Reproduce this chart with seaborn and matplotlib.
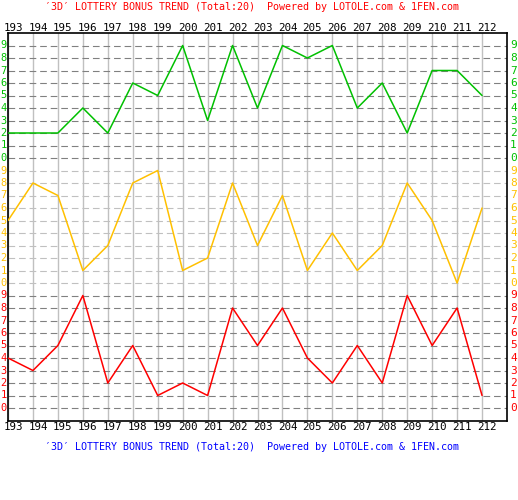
import pandas as pd
import matplotlib
matplotlib.use("Agg")
import matplotlib.pyplot as plt
import matplotlib.transforms as mtrans
import seaborn as sns

periods = [193, 194, 195, 196, 197, 198, 199, 200, 201, 202,
           203, 204, 205, 206, 207, 208, 209, 210, 211, 212]
digit1 = [2, 2, 2, 4, 2, 6, 5, 9, 3, 9, 4, 9, 8, 9, 4, 6, 2, 7, 7, 5]
digit2 = [5, 8, 7, 1, 3, 8, 9, 1, 2, 8, 3, 7, 1, 4, 1, 3, 8, 5, 0, 6]
digit3 = [4, 3, 5, 9, 2, 5, 1, 2, 1, 8, 5, 8, 4, 2, 5, 2, 9, 5, 8, 1]
bands = ["d1", "d2", "d3"]
band_colors = {"d1": "#00c000", "d2": "#ffc000", "d3": "#ff0000"}
band_offset = {"d1": 20, "d2": 10, "d3": 0}
title = "\u20323D\u2032 LOTTERY BONUS TREND (Total:20)  Powered by LOTOLE.com & 1FEN.com"

rows = []
for band, vals in zip(bands, [digit1, digit2, digit3]):
    for i, (p, v) in enumerate(zip(periods, vals)):
        rows.append({"idx": i, "period": p, "band": band, "row": v + band_offset[band]})
df = pd.DataFrame(rows)

sns.set_style("white")
plt.rcParams["font.family"] = ["DejaVu Sans Mono"]

fig = plt.figure(figsize=(5.18, 5.0), dpi=100)
ax = fig.add_axes([8 / 518, 1 - 420.5 / 500, 499 / 518, 387.5 / 500])
ax.set_xlim(0, 20)
ax.set_ylim(-1, 30)

# grid: light vertical lines, dashed horizontal lines per band
for i in range(len(periods)):
    ax.axvline(i, color="#c0c0c0", lw=1.0, zorder=0)
for r in range(30):
    c = "#c0c0c0" if 10 <= r < 20 else "#808080"
    ax.axhline(r, color=c, lw=0.8, ls=(0, (6, 3.5)), zorder=0)

sns.lineplot(data=df, x="idx", y="row", hue="band", palette=band_colors,
             legend=False, lw=1.1, ax=ax, zorder=3)

ax.set_xticks([])
ax.set_yticks([])
ax.set_xlabel("")
ax.set_ylabel("")
for s in ax.spines.values():
    s.set_visible(True)
    s.set_color("black")
    s.set_linewidth(1.2)

# period labels top and bottom
xt = ax.get_xaxis_transform()
for i, p in enumerate(periods):
    off = mtrans.ScaledTranslation(5 / 100, 0, fig.dpi_scale_trans)
    ax.text(i, 1.0, str(p), transform=xt + off, ha="center", va="bottom",
            fontsize=7.8, color="black")
    ax.text(i, 0.0, str(p), transform=xt + mtrans.ScaledTranslation(5 / 100, -1 / 100, fig.dpi_scale_trans),
            ha="center", va="top", fontsize=7.8, color="black")

# digit labels left and right
yt = ax.get_yaxis_transform()
for band in bands:
    for d in range(10):
        r = d + band_offset[band]
        ax.text(0, r, str(d), transform=yt + mtrans.ScaledTranslation(-1.5 / 100, 0, fig.dpi_scale_trans),
                ha="right", va="center", fontsize=7.5, color=band_colors[band])
        ax.text(1, r, str(d), transform=yt + mtrans.ScaledTranslation(3 / 100, 0, fig.dpi_scale_trans),
                ha="left", va="center", fontsize=8, color=band_colors[band])

fig.text(45 / 518, 1 - 7 / 500, title, ha="left", va="center", fontsize=7.2, color="#ff0000")
fig.text(45 / 518, 1 - 447 / 500, title, ha="left", va="center", fontsize=7.2, color="#0000ff")

fig.savefig("out.png", dpi=100, facecolor="white")
